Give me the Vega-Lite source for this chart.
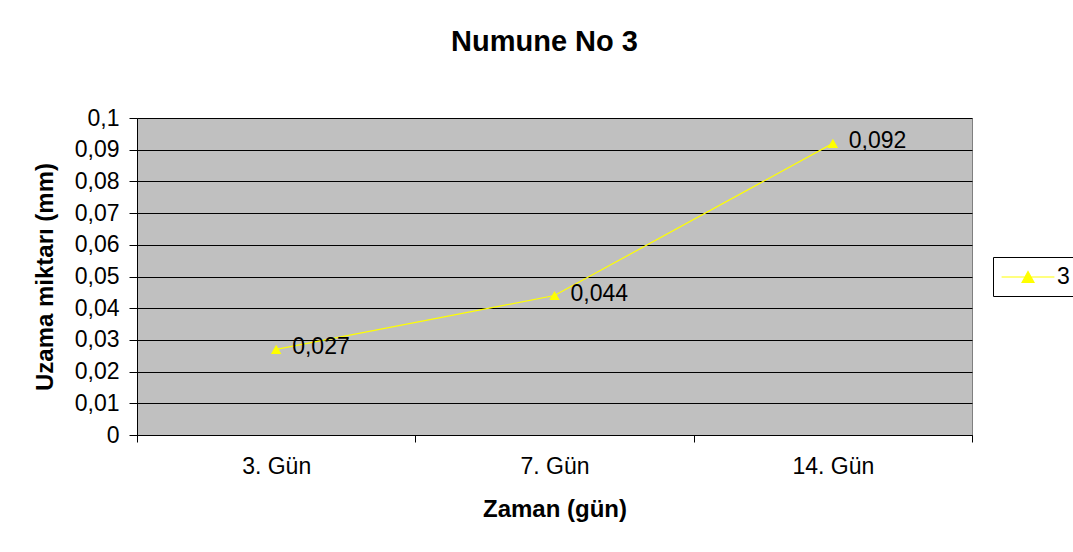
{
  "$schema": "https://vega.github.io/schema/vega-lite/v6.json",
  "autosize": "none",
  "width": 835,
  "height": 317,
  "padding": {"left": 137, "top": 118, "right": 101, "bottom": 117},
  "background": "#ffffff",
  "config": {
    "font": "Liberation Sans",
    "locale": {"number": {"decimal": ",", "thousands": ".", "grouping": [3], "currency": ["", " €"]}},
    "view": {"fill": "#c0c0c0", "stroke": "#808080", "strokeWidth": 1}
  },
  "title": {
    "text": "Numune No 3",
    "font": "Liberation Sans",
    "fontSize": 29,
    "fontWeight": "bold",
    "color": "#000000",
    "offset": 50,
    "dx": -10
  },
  "data": {
    "values": [
      {"gun": "3. Gün", "deger": 0.027, "seri": "3"},
      {"gun": "7. Gün", "deger": 0.044, "seri": "3"},
      {"gun": "14. Gün", "deger": 0.092, "seri": "3"}
    ]
  },
  "encoding": {
    "x": {
      "field": "gun",
      "type": "ordinal",
      "sort": null,
      "scale": {"type": "band", "paddingInner": 0, "paddingOuter": 0},
      "axis": {
        "title": "Zaman (gün)",
        "titleFontSize": 24,
        "titleFontWeight": "bold",
        "titleColor": "#000000",
        "titlePadding": 19,
        "labelAngle": 0,
        "labelFontSize": 23,
        "labelColor": "#000000",
        "labelPadding": 13,
        "tickBand": "extent",
        "tickColor": "#000000",
        "tickSize": 7,
        "domainColor": "#000000",
        "grid": false
      }
    },
    "y": {
      "field": "deger",
      "type": "quantitative",
      "scale": {"domain": [0, 0.1], "nice": false},
      "axis": {
        "title": "Uzama miktarı (mm)",
        "titleFontSize": 24,
        "titleFontWeight": "bold",
        "titleColor": "#000000",
        "titlePadding": 17,
        "values": [0, 0.01, 0.02, 0.03, 0.04, 0.05, 0.06, 0.07, 0.08, 0.09, 0.1],
        "format": ".2~f",
        "labelFontSize": 23,
        "labelColor": "#000000",
        "labelPadding": 10,
        "tickColor": "#000000",
        "tickSize": 8,
        "domainColor": "#000000",
        "grid": true,
        "gridColor": "#000000",
        "gridWidth": 1
      }
    }
  },
  "layer": [
    {
      "mark": {"type": "line", "strokeWidth": 1.2, "color": "#ffff00"},
      "encoding": {
        "color": {
          "field": "seri",
          "type": "nominal",
          "scale": {"range": ["#ffff00"]},
          "legend": {
            "title": null,
            "orient": "none",
            "legendX": 856,
            "legendY": 139,
            "strokeColor": "#000000",
            "fillColor": "#ffffff",
            "padding": 7,
            "labelFontSize": 23,
            "labelColor": "#000000",
            "labelOffset": 16,
            "symbolOffset": 15,
            "symbolType": "M-2.2,0H2.2M-0.5,0.46L0,-0.46L0.5,0.46Z",
            "symbolSize": 576,
            "symbolStrokeWidth": 1.2,
            "encode": {
              "symbols": {"update": {"fill": {"value": "#ffff00"}, "stroke": {"value": "#ffff00"}, "strokeWidth": {"value": 1.2}}}
            }
          }
        }
      }
    },
    {
      "mark": {"type": "point", "shape": "triangle-up", "filled": true, "size": 110, "color": "#ffff00", "opacity": 1}
    },
    {
      "mark": {"type": "text", "align": "left", "baseline": "middle", "dx": 16, "dy": -2, "fontSize": 23, "color": "#000000"},
      "encoding": {
        "text": {"field": "deger", "type": "quantitative", "format": ".3f"}
      }
    }
  ]
}
